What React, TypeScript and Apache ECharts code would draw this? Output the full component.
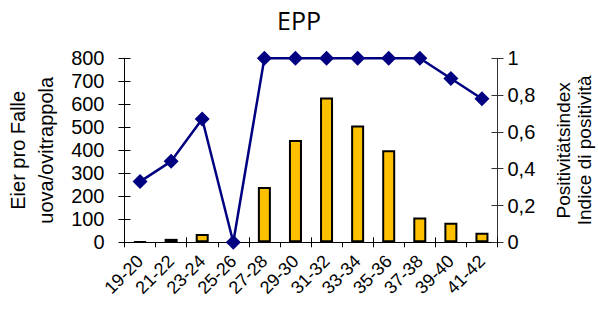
import React, { useEffect, useRef } from "react";
import * as echarts from "echarts";

const categories = ["19-20", "21-22", "23-24", "25-26", "27-28", "29-30", "31-32", "33-34", "35-36", "37-38", "39-40", "41-42"];
const eggs = [3, 15, 36, 0, 240, 445, 630, 508, 400, 108, 85, 42];
const positivity = [0.33, 0.44, 0.67, 0, 1, 1, 1, 1, 1, 1, 0.89, 0.78];
const leftTicks = [0, 800, 100];
const rightTicks = [0, 1, 0.2];

const FONT = "'Liberation Sans', Arial, sans-serif";

export default function App() {
  const ref = useRef<HTMLDivElement>(null);
  useEffect(() => {
    if (!ref.current) return;
    const chart = echarts.init(ref.current, undefined, { renderer: "svg" });
    const grid = { left: 124.5, right: 100.5, top: 58.3, bottom: 69.7, containLabel: false, outerBoundsMode: "none" };
    chart.setOption({
      animation: false,
      title: {
        text: "EPP",
        left: "center",
        top: 2,
        textStyle: { fontFamily: "'Open Sans', 'Noto Sans', sans-serif", fontWeight: "normal", fontSize: 25, color: "#000" },
      },
      grid,
      xAxis: [
        {
          type: "category",
          data: categories,
          axisLine: { lineStyle: { color: "#000", width: 1 } },
          axisTick: { show: true, alignWithLabel: false, length: 5, lineStyle: { color: "#000" } },
          axisLabel: { rotate: 45, fontSize: 18, color: "#000", fontFamily: FONT, margin: 16, interval: 0 },
        },
        {
          type: "category",
          data: categories,
          position: "bottom",
          axisLine: { show: false },
          axisTick: { show: true, inside: true, length: 5, lineStyle: { color: "#000" } },
          axisLabel: { show: false },
        },
      ],
      yAxis: [
        {
          type: "value",
          min: leftTicks[0],
          max: leftTicks[1],
          interval: leftTicks[2],
          position: "left",
          name: "Eier pro Falle\nuova/ovitrappola",
          nameLocation: "middle",
          nameRotate: 90,
          nameGap: 65,
          nameTextStyle: { fontSize: 20, fontFamily: FONT, color: "#000", lineHeight: 28 },
          axisLine: { show: true, lineStyle: { color: "#000" } },
          axisTick: { show: true, length: 6, lineStyle: { color: "#000" } },
          axisLabel: { fontSize: 20, color: "#000", fontFamily: FONT, margin: 20 },
          splitLine: { show: false },
        },
        {
          type: "value",
          min: rightTicks[0],
          max: rightTicks[1],
          interval: rightTicks[2],
          position: "right",
          name: "Positivitätsindex\nIndice di positività",
          nameLocation: "middle",
          nameRotate: 90,
          nameGap: 55,
          nameTextStyle: { fontSize: 19, fontFamily: FONT, color: "#000", lineHeight: 21 },
          axisLine: { show: true, lineStyle: { color: "#333" } },
          axisTick: { show: true, length: 6, lineStyle: { color: "#333" } },
          axisLabel: {
            fontSize: 20,
            color: "#000",
            fontFamily: FONT,
            margin: 10,
            formatter: (v: number) => String(v).replace(".", ","),
          },
          splitLine: { show: false },
        },
        {
          type: "value",
          min: leftTicks[0],
          max: leftTicks[1],
          interval: leftTicks[2],
          position: "left",
          axisLine: { show: false },
          axisTick: { show: true, inside: true, length: 6, lineStyle: { color: "#000" } },
          axisLabel: { show: false },
          splitLine: { show: false },
        },
        {
          type: "value",
          min: rightTicks[0],
          max: rightTicks[1],
          interval: rightTicks[2],
          position: "right",
          axisLine: { show: false },
          axisTick: { show: true, inside: true, length: 6, lineStyle: { color: "#333" } },
          axisLabel: { show: false },
          splitLine: { show: false },
        },
      ],
      series: [
        {
          type: "bar",
          data: eggs,
          yAxisIndex: 0,
          barWidth: 13,
          itemStyle: { color: "#FFC000", borderColor: "#000", borderWidth: 2 },
          z: 2,
        },
        {
          type: "line",
          data: positivity,
          yAxisIndex: 1,
          symbol: "diamond",
          symbolSize: 15,
          lineStyle: { color: "#000080", width: 2.5 },
          itemStyle: { color: "#000080" },
          z: 3,
        },
      ],
    });
    return () => chart.dispose();
  }, []);
  return <div ref={ref} style={{ width: 598, height: 312, position: "absolute", left: 0, top: 0 }} />;
}
